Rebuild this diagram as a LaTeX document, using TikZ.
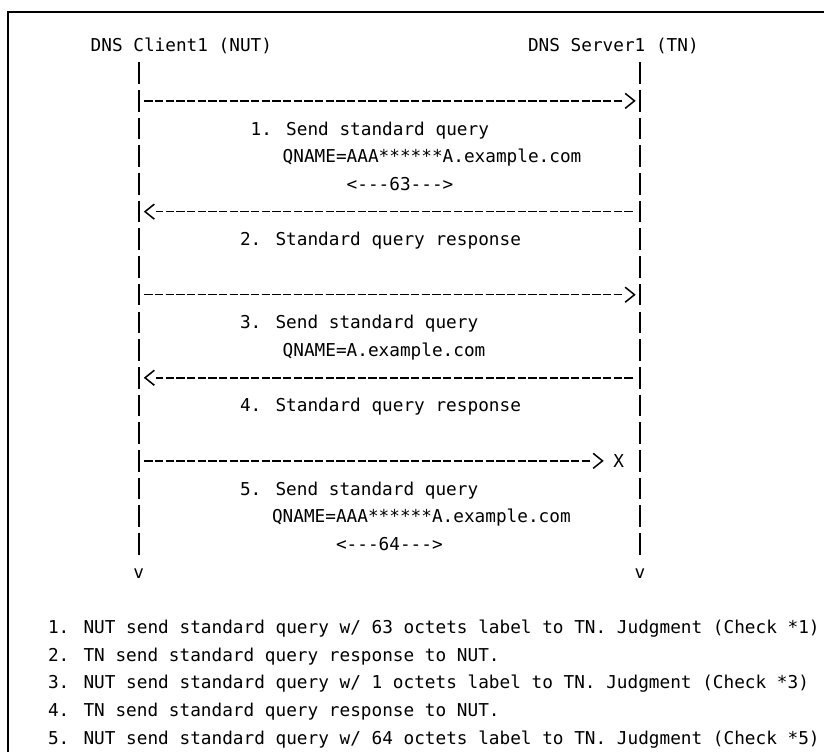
\documentclass[tikz,border=0pt]{standalone}
\usepackage{fontspec}
\usetikzlibrary{arrows.meta}
\newfontfamily\gmono{DejaVu Sans Mono}
\newdimen\chevgap
\pgfdeclarearrow{
  name = Chev,
  parameters = {\the\pgfarrowlength,\the\pgfarrowwidth},
  setup code = {
    \chevgap=\pgfarrowlength
    \advance\chevgap by 1.5pt
    \pgfarrowssettipend{0pt}
    \pgfarrowssetlineend{-\chevgap}
    \pgfarrowssetbackend{-\pgfarrowlength}
    \pgfarrowssavethe\pgfarrowlength
    \pgfarrowssavethe\pgfarrowwidth
  },
  drawing code = {
    \pgfsetdash{}{0pt}
    \pgfpathmoveto{\pgfqpoint{-\pgfarrowlength}{.5\pgfarrowwidth}}
    \pgfpathlineto{\pgfqpoint{0pt}{0pt}}
    \pgfpathlineto{\pgfqpoint{-\pgfarrowlength}{-.5\pgfarrowwidth}}
    \pgfusepathqstroke
  },
  defaults = {length = 7pt, width = 11.25pt}
}
\tikzset{
  txt/.style={anchor=base west, inner sep=0pt, outer sep=0pt,
    font=\gmono\fontsize{13.29pt}{16pt}\selectfont, text=black},
  life/.style={line width=1.5pt, dash pattern=on 16.2pt off 4.57pt},
  msg/.style={line width=1.15pt, dash pattern=on 6.3pt off 1.7pt,
    -{Chev[length=7pt,width=11.25pt]}},
  frame/.style={line width=1.6pt}
}
\begin{document}
\begin{tikzpicture}[x=0.75pt,y=-0.75pt]
\useasboundingbox (0,0) rectangle (824,751);
% frame (cut by the page on the right and bottom)
\coordinate (fb) at (8.3,760);
\coordinate (fr) at (830,11.7);
\draw[frame] (fb) |- (fr);

% headers
\node[txt] (nut) at (90.70,51.95) {DNS Client1 (NUT)};
\node[txt] (tn)  at (528.00,51.95) {DNS Server1 (TN)};

% lifelines
\coordinate (Lt) at (138.7,62.3);
\coordinate (Lb) at (138.7,555.0);
\coordinate (Rt) at (640.0,62.3);
\coordinate (Rb) at (640.0,555.0);
\draw[life] (Lt) -- (Lb);
\draw[life] (Rt) -- (Rb);
\node[txt] (lv) at (133.36,578.06) {v};
\node[txt] (rv) at (634.66,578.06) {v};

% messages
\coordinate (m1s) at (144.3,100.88);
\coordinate (m1e) at (634.5,100.88);
\draw[msg] (m1s) -- (m1e);
\node[txt] (t1a) at (250.69,135.02) {1. Send standard query};
\node[txt] (t1b) at (282.68,162.71) {QNAME=AAA******A.example.com};
\node[txt] (t1c) at (346.68,190.40) {<-{}-{}-63-{}-{}->};

\coordinate (m2s) at (632.7,211.64);
\coordinate (m2e) at (145.0,211.64);
\draw[msg] (m2s) -- (m2e);
\node[txt] (t2a) at (240.02,245.78) {2. Standard query response};

\coordinate (m3s) at (144.3,294.71);
\coordinate (m3e) at (634.5,294.71);
\draw[msg] (m3s) -- (m3e);
\node[txt] (t3a) at (240.02,328.85) {3. Send standard query};
\node[txt] (t3b) at (282.68,356.54) {QNAME=A.example.com};

\coordinate (m4s) at (632.7,377.78);
\coordinate (m4e) at (145.0,377.78);
\draw[msg] (m4s) -- (m4e);
\node[txt] (t4a) at (240.02,411.92) {4. Standard query response};

\coordinate (m5s) at (144.3,460.85);
\coordinate (m5e) at (602.5,460.85);
\draw[msg] (m5s) -- (m5e);
\node[txt] (lost) at (613.33,467.30) {X};
\node[txt] (t5a) at (240.02,494.99) {5. Send standard query};
\node[txt] (t5b) at (272.02,522.68) {QNAME=AAA******A.example.com};
\node[txt] (t5c) at (336.01,550.37) {<-{}-{}-64-{}-{}->};

% notes
\node[txt] (n1) at (48.03,633.44) {1. NUT send standard query w/ 63 octets label to TN. Judgment (Check *1)};
\node[txt] (n2) at (48.03,661.13) {2. TN send standard query response to NUT.};
\node[txt] (n3) at (48.03,688.82) {3. NUT send standard query w/ 1 octets label to TN. Judgment (Check *3)};
\node[txt] (n4) at (48.03,716.51) {4. TN send standard query response to NUT.};
\node[txt] (n5) at (48.03,744.20) {5. NUT send standard query w/ 64 octets label to TN. Judgment (Check *5)};
\end{tikzpicture}
\end{document}
